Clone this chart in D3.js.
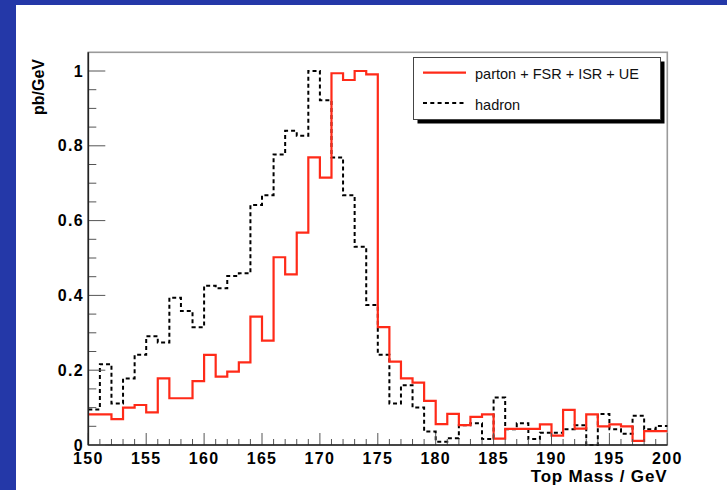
<!DOCTYPE html>
<html>
<head>
<meta charset="utf-8">
<script src="https://cdn.jsdelivr.net/npm/d3@7"></script>
<style>
  html, body { margin: 0; padding: 0; background: #ffffff; }
  svg { display: block; }
  text { font-family: "Liberation Sans", Arial, Helvetica, sans-serif; }
</style>
</head>
<body>
<script>
// Reconstructed top-mass distributions, 1 GeV bins from 150 to 200 GeV
const binLow = 150;
const binWidth = 1;
const partonFsrIsrUe = [
  0.082, 0.082, 0.069, 0.100, 0.107, 0.087, 0.178, 0.125, 0.125, 0.171,
  0.241, 0.183, 0.196, 0.221, 0.343, 0.279, 0.502, 0.456, 0.568, 0.769,
  0.715, 0.994, 0.976, 1.000, 0.991, 0.315, 0.223, 0.178, 0.167, 0.118,
  0.056, 0.083, 0.053, 0.075, 0.082, 0.017, 0.043, 0.043, 0.043, 0.055,
  0.025, 0.094, 0.044, 0.082, 0.050, 0.055, 0.050, 0.011, 0.037, 0.037
];
const hadron = [
  0.095, 0.216, 0.111, 0.178, 0.241, 0.291, 0.274, 0.394, 0.358, 0.315,
  0.426, 0.419, 0.452, 0.459, 0.642, 0.668, 0.777, 0.840, 0.827, 1.000,
  0.922, 0.769, 0.668, 0.530, 0.374, 0.241, 0.111, 0.160, 0.100, 0.036,
  0.009, 0.018, 0.053, 0.058, 0.016, 0.127, 0.042, 0.058, 0.016, 0.033,
  0.033, 0.042, 0.053, 0.000, 0.083, 0.042, 0.030, 0.078, 0.042, 0.051
];
const xTicks = [150, 155, 160, 165, 170, 175, 180, 185, 190, 195, 200];
const yTicks = [0, 0.2, 0.4, 0.6, 0.8, 1];
const yTickLabels = ["0", "0.2", "0.4", "0.6", "0.8", "1"];
const legendLabels = ["parton + FSR + ISR + UE", "hadron"];
const xTitle = "Top Mass / GeV";
const yTitle = "pb/GeV";

const W = 727, H = 490;
const plot = { left: 88.3, right: 667.3, top: 52.3, bottom: 445 };
const blue = "#2438a8";
const red = "#ff2a18";

const svg = d3.select("body").append("svg")
  .attr("width", W).attr("height", H);

// canvas and its blue border strips
svg.append("rect").attr("width", W).attr("height", H).attr("fill", "#ffffff");
svg.append("rect").attr("x", 0).attr("y", 0).attr("width", W).attr("height", 5).attr("fill", blue);
svg.append("rect").attr("x", 0).attr("y", 0).attr("width", 16).attr("height", H).attr("fill", blue);

const x = d3.scaleLinear().domain([150, 200]).range([plot.left, plot.right]);
const y = d3.scaleLinear().domain([0, 1.05]).range([plot.bottom, plot.top]);

// frame of the pad
svg.append("rect")
  .attr("x", plot.left).attr("y", plot.top)
  .attr("width", plot.right - plot.left).attr("height", plot.bottom - plot.top)
  .attr("fill", "none").attr("stroke", "#9a9a9a").attr("stroke-width", 1.6);

// histogram outlines drawn as steps
function stepPoints(values) {
  const pts = values.map((v, i) => [binLow + i * binWidth, v]);
  pts.push([binLow + values.length * binWidth, values[values.length - 1]]);
  return pts;
}
const step = d3.line().x(d => x(d[0])).y(d => y(d[1])).curve(d3.curveStepAfter);

svg.append("path")
  .attr("d", step(stepPoints(hadron)))
  .attr("fill", "none").attr("stroke", "#000").attr("stroke-width", 2)
  .attr("stroke-dasharray", "4,3");

svg.append("path")
  .attr("d", step(stepPoints(partonFsrIsrUe)))
  .attr("fill", "none").attr("stroke", red).attr("stroke-width", 2.2);

// x axis: major ticks every 5 GeV, minor every 1 GeV, pointing into the pad
const xAxisG = svg.append("g");
const xMinor = d3.range(150, 201, 1).filter(v => v % 5 !== 0);
xAxisG.selectAll("line.minor").data(xMinor).join("line")
  .attr("x1", d => x(d)).attr("x2", d => x(d))
  .attr("y1", plot.bottom).attr("y2", plot.bottom - 6)
  .attr("stroke", "#555").attr("stroke-width", 1);
xAxisG.selectAll("line.major").data(xTicks).join("line")
  .attr("x1", d => x(d)).attr("x2", d => x(d))
  .attr("y1", plot.bottom).attr("y2", plot.bottom - 12)
  .attr("stroke", "#555").attr("stroke-width", 1);
xAxisG.append("line")
  .attr("x1", plot.left).attr("x2", plot.right)
  .attr("y1", plot.bottom).attr("y2", plot.bottom)
  .attr("stroke", "#222").attr("stroke-width", 1.6);
xAxisG.selectAll("text").data(xTicks).join("text")
  .attr("x", d => x(d)).attr("y", 464)
  .attr("text-anchor", "middle")
  .attr("font-size", 16).attr("font-weight", "bold")
  .attr("letter-spacing", 1.3)
  .text(d => d);

// y axis: major ticks every 0.2, minor every 0.05
const yAxisG = svg.append("g");
const yMinor = d3.range(0, 21).map(i => i * 0.05).filter((v, i) => i % 4 !== 0);
yAxisG.selectAll("line.minor").data(yMinor).join("line")
  .attr("x1", plot.left).attr("x2", plot.left + 8)
  .attr("y1", d => y(d)).attr("y2", d => y(d))
  .attr("stroke", "#555").attr("stroke-width", 1);
yAxisG.selectAll("line.major").data(yTicks).join("line")
  .attr("x1", plot.left).attr("x2", plot.left + 17)
  .attr("y1", d => y(d)).attr("y2", d => y(d))
  .attr("stroke", "#555").attr("stroke-width", 1);
yAxisG.append("line")
  .attr("x1", plot.left).attr("x2", plot.left)
  .attr("y1", plot.top).attr("y2", plot.bottom)
  .attr("stroke", "#222").attr("stroke-width", 1.6);
yAxisG.selectAll("text").data(yTicks).join("text")
  .attr("x", 84).attr("y", d => y(d) + 5.5)
  .attr("text-anchor", "end")
  .attr("font-size", 16).attr("font-weight", "bold")
  .attr("letter-spacing", 1.3)
  .text((d, i) => yTickLabels[i]);

// axis titles
svg.append("text")
  .attr("x", plot.right).attr("y", 482)
  .attr("text-anchor", "end")
  .attr("font-size", 17).attr("font-weight", "bold")
  .attr("letter-spacing", 0.8)
  .text(xTitle);
svg.append("text")
  .attr("transform", "translate(44,59) rotate(-90)")
  .attr("text-anchor", "end")
  .attr("font-size", 16).attr("font-weight", "bold")
  .text(yTitle);

// legend box with drop shadow
const leg = { x: 413.5, y: 57.5, w: 247, h: 62 };
svg.append("rect")
  .attr("x", leg.x + 4).attr("y", leg.y + 4).attr("width", leg.w).attr("height", leg.h)
  .attr("fill", "#000");
svg.append("rect")
  .attr("x", leg.x).attr("y", leg.y).attr("width", leg.w).attr("height", leg.h)
  .attr("fill", "#fff").attr("stroke", "#444").attr("stroke-width", 1);

const legendStyles = [
  { stroke: red, dash: null, width: 2.2 },
  { stroke: "#000", dash: "4,3.3", width: 2 }
];
const legendRows = [72.7, 103];
legendLabels.forEach((label, i) => {
  svg.append("line")
    .attr("x1", 423).attr("x2", 466)
    .attr("y1", legendRows[i]).attr("y2", legendRows[i])
    .attr("stroke", legendStyles[i].stroke)
    .attr("stroke-width", legendStyles[i].width)
    .attr("stroke-dasharray", legendStyles[i].dash);
  svg.append("text")
    .attr("x", 475).attr("y", legendRows[i] + 6.5 + (i === 1 ? 0.3 : 0))
    .attr("font-size", 14.5)
    .attr("fill", "#111")
    .text(label);
});
</script>
</body>
</html>
